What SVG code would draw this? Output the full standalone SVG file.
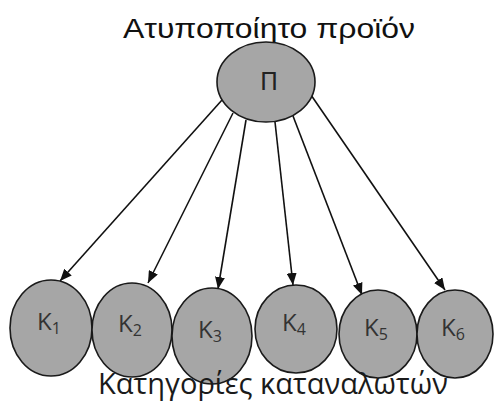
<svg xmlns="http://www.w3.org/2000/svg" width="495" height="403" viewBox="0 0 495 403">
<defs>
<style>
.n{fill:#a6a6a6;stroke:#1a1a1a;stroke-width:1.6}
.k{font-family:"Open Sans","DejaVu Sans",sans-serif;font-size:24px;fill:#333}
.s{font-size:16px}
.t{font-family:"Liberation Sans",Arial,sans-serif;font-size:28px;fill:#111;text-anchor:middle}
.b{font-family:"Open Sans","DejaVu Sans",sans-serif;font-size:29px;fill:#1a1a1a;text-anchor:middle}
.c{stroke:#111;stroke-width:1.6;fill:none;marker-end:url(#ah)}
</style>
<marker id="ah" viewBox="0 0 12 10" refX="12" refY="5" markerWidth="12" markerHeight="10" markerUnits="userSpaceOnUse" orient="auto">
<path d="M0,0 L12,5 L0,10 z" fill="#111"/>
</marker>
</defs>
<rect width="495" height="403" fill="#fff"/>
<text class="t" x="269" y="38" textLength="292" lengthAdjust="spacingAndGlyphs">Ατυποποίητο προϊόν</text>
<g id="connectors">
<line class="c" x1="222" y1="100" x2="60" y2="281"/>
<line class="c" x1="233" y1="113" x2="148" y2="283"/>
<line class="c" x1="246" y1="120" x2="218" y2="289"/>
<line class="c" x1="275" y1="122" x2="293" y2="285"/>
<line class="c" x1="293" y1="116" x2="362" y2="295"/>
<line class="c" x1="311" y1="95" x2="445" y2="290"/>
</g>
<g id="P">
<ellipse class="n" cx="266" cy="82" rx="49" ry="40"/>
<text x="269" y="90" font-family="'DejaVu Sans',sans-serif" font-size="24" fill="#222" text-anchor="middle">Π</text>
</g>
<g id="K1"><ellipse class="n" cx="51" cy="328" rx="41" ry="48"/><text class="k" x="37" y="330">K<tspan class="s" dy="4">1</tspan></text></g>
<g id="K2"><ellipse class="n" cx="132" cy="330" rx="40" ry="47"/><text class="k" x="118" y="332">K<tspan class="s" dy="4">2</tspan></text></g>
<g id="K3"><ellipse class="n" cx="212" cy="336" rx="40" ry="48"/><text class="k" x="198" y="338">K<tspan class="s" dy="4">3</tspan></text></g>
<g id="K4"><ellipse class="n" cx="296" cy="329" rx="41" ry="44"/><text class="k" x="282" y="331">K<tspan class="s" dy="4">4</tspan></text></g>
<g id="K5"><ellipse class="n" cx="378" cy="334" rx="39" ry="44"/><text class="k" x="364" y="336">K<tspan class="s" dy="4">5</tspan></text></g>
<g id="K6"><ellipse class="n" cx="455" cy="334" rx="38" ry="44"/><text class="k" x="441" y="336">K<tspan class="s" dy="4">6</tspan></text></g>
<text class="b" x="273" y="394" textLength="350" lengthAdjust="spacingAndGlyphs">Κατηγορίες καταναλωτών</text>
</svg>
